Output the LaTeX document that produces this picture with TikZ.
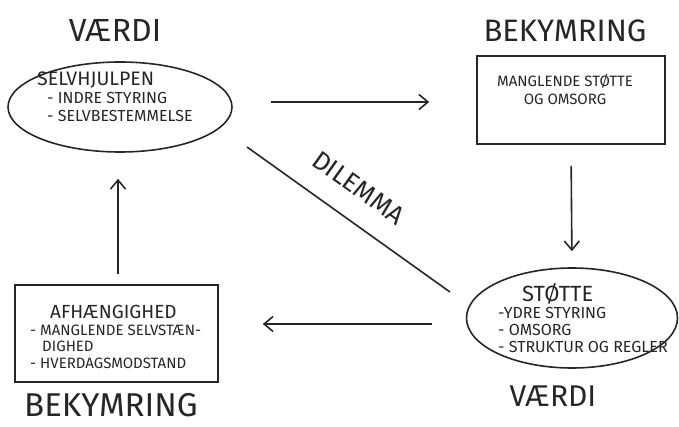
\documentclass[tikz,border=0pt]{standalone}
\usepackage{fontspec}
\setmainfont{Fira Sans}
\usetikzlibrary{arrows.meta,shapes.geometric}
\definecolor{InkClr}{RGB}{38,38,38}

\begin{document}
\begin{tikzpicture}[x=1pt,y=-1pt,
  ink/.style={draw=InkClr,line width=1.6pt},
  oval/.style={ink,ellipse,inner sep=0pt},
  frame/.style={ink,rectangle,inner sep=0pt},
  arr/.style={InkClr,line width=1.6pt,-{Straight Barb[length=9pt,width=15pt]}},
  heading/.style={text=InkClr,inner sep=0pt},
  body/.style={text=InkClr,inner sep=0pt,align=left}]
\useasboundingbox (0,0) rectangle (679,427);

\node[oval,minimum width=224pt,minimum height=90pt] (selv) at (120,107) {};
\node[frame,minimum width=188pt,minimum height=88pt] (mangel) at (571,100) {};
\node[oval,minimum width=211pt,minimum height=100pt] (stotte) at (572,318) {};
\node[frame,minimum width=203pt,minimum height=97pt] (afh) at (116.5,333.5) {};

\node[heading,font=\fontsize{32}{32}\selectfont] (vaerdiA) at (115,30) {VÆRDI};
\node[heading,font=\fontsize{31}{31}\selectfont] (bekymA) at (565,31) {BEKYMRING};
\node[heading,font=\fontsize{30}{30}\selectfont] (vaerdiB) at (553,396) {VÆRDI};
\node[heading,font=\fontsize{33}{33}\selectfont] (bekymB) at (111,405) {BEKYMRING};

\node[body,anchor=north west,font=\fontsize{16}{18}\selectfont] (selvtxt) at (37,72)
  {{\fontsize{19.5}{19.5}\selectfont SELVHJULPEN}\\
   \hspace*{10pt}- INDRE STYRING\\
   \hspace*{10pt}- SELVBESTEMMELSE};
\node[body,align=center,anchor=north,font=\fontsize{15}{18}\selectfont] (mangeltxt) at (565,74)
  {MANGLENDE STØTTE\\ OG OMSORG};
\node[body,anchor=north west,font=\fontsize{16}{17}\selectfont] (stottetxt) at (498,283)
  {\hspace*{24pt}{\fontsize{22}{22}\selectfont STØTTE}\\
   -YDRE STYRING\\
   - OMSORG\\
   - STRUKTUR OG REGLER};
\node[body,anchor=north west,font=\fontsize{15}{16.5}\selectfont] (afhtxt) at (30,305)
  {\hspace*{20pt}{\fontsize{19}{19}\selectfont AFHÆNGIGHED}\\
   - MANGLENDE SELVSTÆN-\\
   \hspace*{12pt}DIGHED\\
   - HVERDAGSMODSTAND};

\draw[arr,shorten <=38pt,shorten >=47pt] ([yshift=5pt]selv.east) -- ([yshift=-2pt]mangel.west);
\draw[arr,shorten <=21pt,shorten >=16pt] (mangel.south) -- (stotte.north);
\draw[arr,shorten <=34pt,shorten >=44pt] ([yshift=-6pt]stotte.west) -- ([yshift=9.5pt]afh.east);
\draw[arr,shorten <=10pt,shorten >=26pt] ([xshift=1.5pt]afh.north) -- ([xshift=-2pt]selv.south);

\coordinate (dilA) at (247,147);
\coordinate (dilB) at (450,292);
\draw[ink] (dilA) -- node[heading,sloped,above=22pt,pos=0.46,font=\fontsize{26}{26}\selectfont] (dilemma) {DILEMMA} (dilB);

\end{tikzpicture}
\end{document}
